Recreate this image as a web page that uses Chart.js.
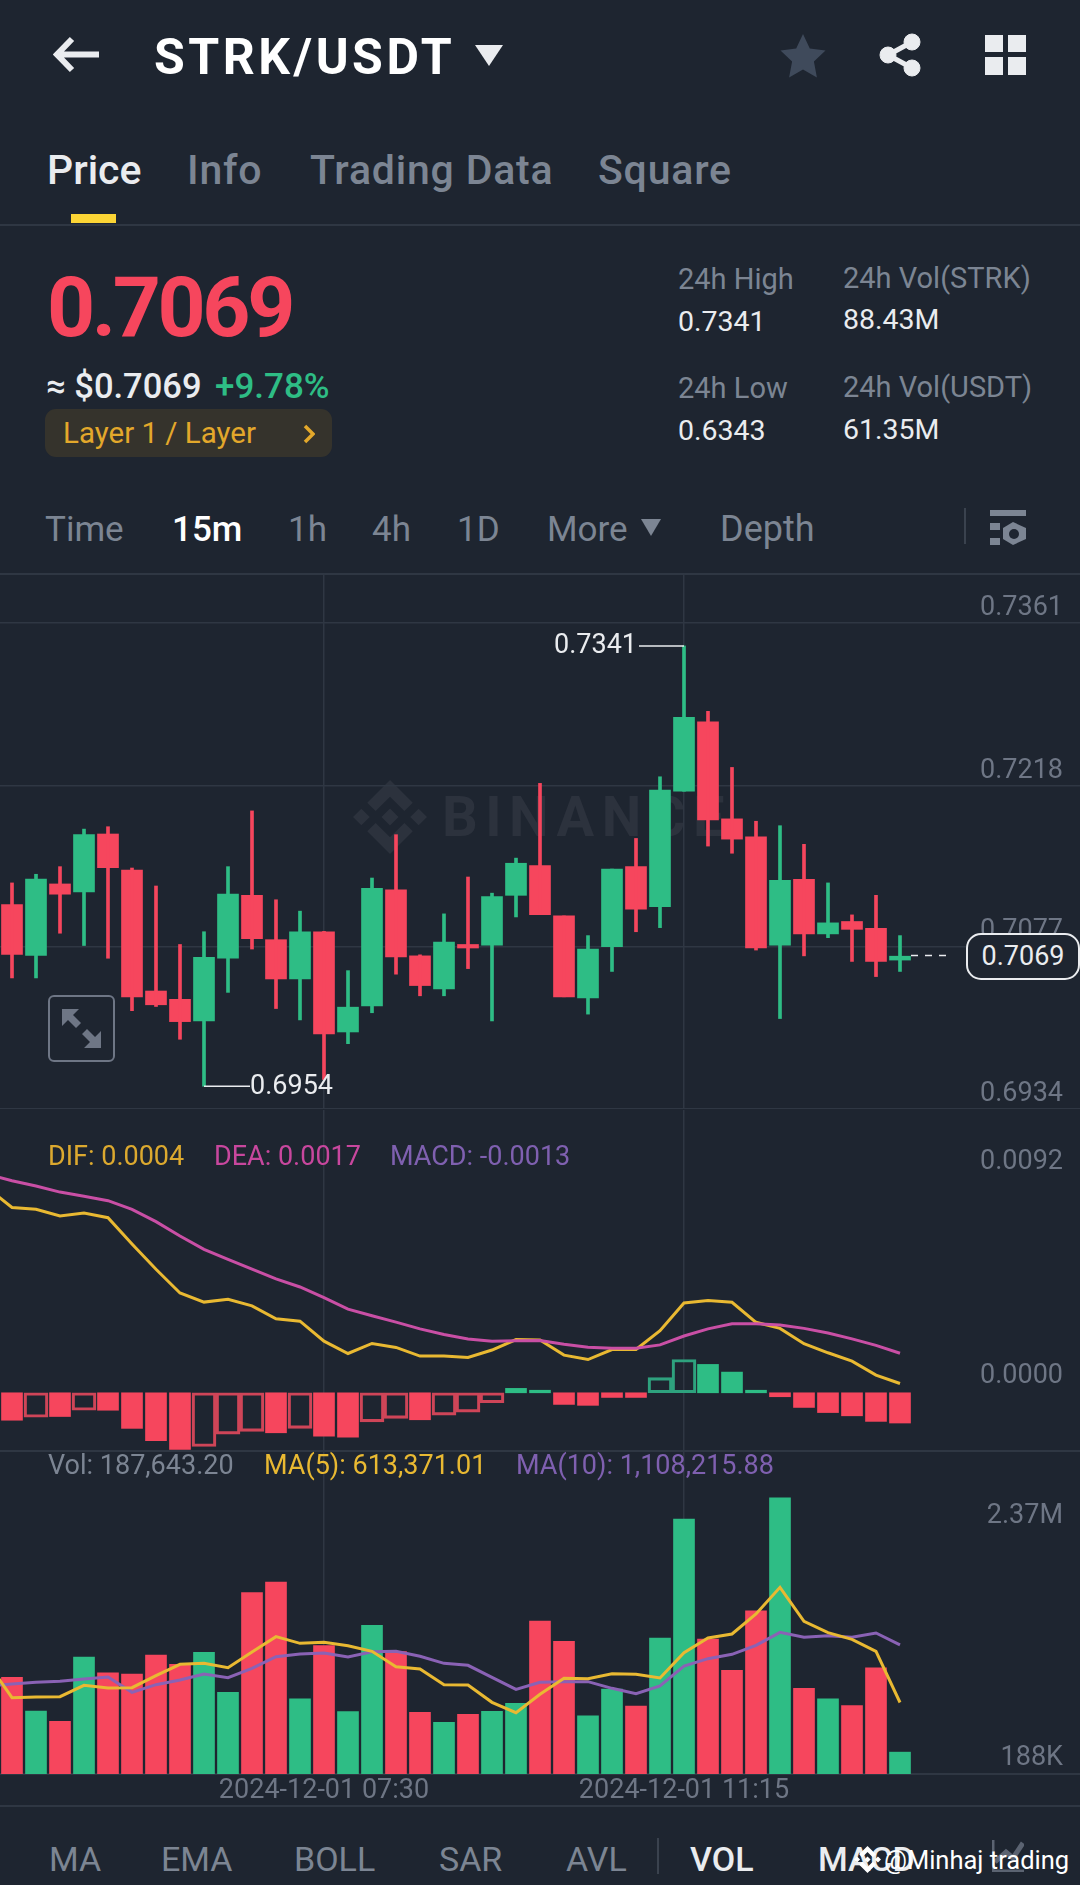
<!DOCTYPE html>
<html>
<head>
<meta charset="utf-8">
<title>STRK/USDT</title>
<script src="https://cdn.jsdelivr.net/npm/chart.js@4/dist/chart.umd.min.js"></script>
<style>
html, body { margin: 0; padding: 0; background: #1e2530; }
body { position: relative; width: 1080px; height: 1885px; overflow: hidden; font-family: Roboto, sans-serif; color: #eaecef; }
.t { position: absolute; white-space: nowrap; transform: translateY(-50%); line-height: 1; }
.grey { color: #7c8593; }
.line { position: absolute; left: 0; width: 1080px; height: 2px; background: #2f3743; }
svg { position: absolute; }
canvas { position: absolute; left: -23.6px; }
#price { top: 573px; }
#macd { top: 1110px; }
#vol { top: 1451px; }
.ax { font-size: 27px; }
.tab { font-size: 41px; font-weight: 500; }
.tab.grey { letter-spacing: 0.8px; }
.row { font-size: 35px; }
.low { font-size: 34px; }
.stat { font-size: 29px; }
.val { font-size: 28.500px; }
#mark { left: 353px; top: 780px; width: 74px; height: 74px; fill: #2c323d; }
#wm { left: 442px; top: 817px; font-size: 56px; font-weight: 700; color: #2c323d; letter-spacing: 7.500px; }
#pill { position: absolute; left: 966px; top: 933px; width: 110px; height: 43px; border: 2px solid #eaecef; border-radius: 15px; background: #1e2530; text-align: center; font-size: 27px; line-height: 43px; }
#expand { position: absolute; left: 48px; top: 995px; width: 63px; height: 63px; border: 2px solid #6e7685; border-radius: 6px; }
</style>
</head>
<body>

<div id="mark-wrap">
<svg id="mark" viewBox="0 0 126.61 126.61"><path d="M38.73 53.2l24.59-24.58 24.6 24.6 14.3-14.31L63.32 0l-38.9 38.9zM0 63.31l14.3-14.31 14.31 14.31-14.31 14.3zM38.73 73.41l24.59 24.59 24.6-24.6 14.31 14.29-38.9 38.91-38.91-38.88zM98 63.31l14.3-14.31 14.31 14.3-14.31 14.32zM77.83 63.3L63.32 48.78 52.59 59.51l-1.24 1.23-2.54 2.54 14.51 14.5 14.5-14.47z"/></svg>
<div class="t" id="wm">BINANCE</div>
</div>

<!-- top bar -->
<svg style="left:53px;top:36px" width="46" height="37" viewBox="0 0 46 37"><path d="M19 3L4 18.5 19 34M5 18.5H46" fill="none" stroke="#eaecef" stroke-width="6"/></svg>
<div class="t" style="left:154px;top:57px;font-size:50px;font-weight:700;color:#fff;letter-spacing:3.500px">STRK/USDT</div>
<svg style="left:475px;top:45px" width="28" height="21"><path d="M0 0H28L14 21Z" fill="#eaecef"/></svg>
<svg style="left:780px;top:33px" width="46" height="46" viewBox="0 0 46 46"><path d="M23 1l6.8 14.6 15.7 2-11.6 11 3 15.8L23 36.4 9.1 44.4l3-15.8L.5 17.600l15.7-2z" fill="#3f4a5b"/></svg>
<svg style="left:878px;top:33px" width="44" height="44" viewBox="0 0 44 44"><g fill="#eaecef" stroke="#eaecef"><circle cx="34" cy="9" r="8"/><circle cx="34" cy="35" r="8"/><circle cx="10" cy="22" r="8"/><path d="M34 9L10 22 34 35" fill="none" stroke-width="5"/></g></svg>
<svg style="left:985px;top:35px" width="41" height="40"><path d="M0 0H18V17H0ZM23 0H41V17H23ZM0 22H18V40H0ZM23 22H41V40H23Z" fill="#eaecef"/></svg>

<!-- tabs -->
<div class="t tab" style="left:47px;top:170px;color:#eaecef">Price</div>
<div class="t tab grey" style="left:187px;top:170px">Info</div>
<div class="t tab grey" style="left:310px;top:170px">Trading Data</div>
<div class="t tab grey" style="left:598px;top:170px">Square</div>
<div style="position:absolute;left:71px;top:214px;width:45px;height:9px;background:#fcd535"></div>
<div class="line" style="top:224px"></div>

<!-- ticker -->
<div class="t" style="left:47px;top:308px;font-size:84px;font-weight:700;color:#f6465d;letter-spacing:-3.400px">0.7069</div>
<div class="t" style="left:46px;top:386px;font-size:34.500px;font-weight:500">≈ $0.7069</div>
<div class="t" style="left:215px;top:386px;font-size:35px;font-weight:500;color:#2ebd85">+9.78%</div>
<div style="position:absolute;left:45px;top:409px;width:287px;height:48px;background:#35332c;border-radius:11px"></div>
<div class="t" style="left:63px;top:434px;font-size:29.500px;color:#e3a82b">Layer 1 / Layer</div>
<svg style="left:303px;top:424px" width="12" height="20"><path d="M2 2L10 10 2 18" fill="none" stroke="#e3a82b" stroke-width="3.500"/></svg>
<div class="t stat grey" style="left:678px;top:279px">24h High</div>
<div class="t val" style="left:678px;top:322px">0.7341</div>
<div class="t stat grey" style="left:843px;top:278px">24h Vol(STRK)</div>
<div class="t val" style="left:843px;top:320px">88.43M</div>
<div class="t stat grey" style="left:678px;top:388px">24h Low</div>
<div class="t val" style="left:678px;top:431px">0.6343</div>
<div class="t stat grey" style="left:843px;top:387px">24h Vol(USDT)</div>
<div class="t val" style="left:843px;top:430px">61.35M</div>

<!-- interval row -->
<div class="t row grey" style="left:45px;top:529px">Time</div>
<div class="t row" style="left:172px;top:529px;font-weight:500;color:#fff">15m</div>
<div class="t row grey" style="left:288px;top:529px">1h</div>
<div class="t row grey" style="left:372px;top:529px">4h</div>
<div class="t row grey" style="left:457px;top:529px">1D</div>
<div class="t row grey" style="left:547px;top:529px">More</div>
<svg style="left:641px;top:519px" width="20" height="17"><path d="M0 0H20L10 17Z" fill="#7c8593"/></svg>
<div class="t row grey" style="left:720px;top:529px;font-size:36px">Depth</div>
<div style="position:absolute;left:964px;top:508px;width:2px;height:36px;background:#3a424e"></div>
<svg style="left:990px;top:510px" width="36" height="35"><g fill="#7c8593"><rect x="0" y="0" width="36" height="6"/><rect x="0" y="13" width="10" height="7"/><rect x="0" y="28" width="10" height="7"/><path d="M23 12l13 6v11l-13 6-10-6V18z"/></g><circle cx="24" cy="24" r="5" fill="#1e2530"/></svg>

<div class="line" style="top:573px"></div>
<div class="line" style="top:1450px"></div>
<div class="line" style="top:1805px"></div>

<canvas id="price" width="1104" height="536"></canvas>
<canvas id="macd" width="1104" height="340"></canvas>
<canvas id="vol" width="1104" height="354"></canvas>

<div id="pill">0.7069</div>
<div id="expand">
<svg style="left:12px;top:12px" width="39" height="39" viewBox="0 0 39 39"><path d="M0 0H17L11 6 19 14 14 19 6 11 0 17ZM39 39H22L28 33 20 25 25 20 33 28 39 22Z" fill="#6e7685"/></svg>
</div>

<!-- chart legends -->
<div class="t ax" style="left:48px;top:1156px;color:#dca92f">DIF: 0.0004</div>
<div class="t ax" style="left:214px;top:1156px;color:#c8479e">DEA: 0.0017</div>
<div class="t ax" style="left:390px;top:1156px;color:#7f60b0">MACD: -0.0013</div>
<div class="t ax grey" style="left:48px;top:1465px">Vol: 187,643.20</div>
<div class="t ax" style="left:264px;top:1465px;color:#e9b932">MA(5): 613,371.01</div>
<div class="t ax" style="left:516px;top:1465px;color:#7f60b0">MA(10): 1,108,215.88</div>

<!-- bottom row -->
<div class="t low grey" style="left:49px;top:1859px">MA</div>
<div class="t low grey" style="left:161px;top:1859px">EMA</div>
<div class="t low grey" style="left:294px;top:1859px">BOLL</div>
<div class="t low grey" style="left:439px;top:1859px">SAR</div>
<div class="t low grey" style="left:566px;top:1859px">AVL</div>
<div style="position:absolute;left:657px;top:1838px;width:2px;height:36px;background:#3a424e"></div>
<div class="t low" style="left:690px;top:1859px;font-weight:500">VOL</div>
<svg style="left:992px;top:1840px" width="32" height="32"><path d="M0 0V32H32M3 22L14 12 21 18 31 3" fill="none" stroke="#5b6371" stroke-width="5"/></svg>
<div class="t low" style="left:818px;top:1859px;font-weight:500">MACD</div>
<svg style="left:854px;top:1846px;fill:#fff" width="27" height="27" viewBox="0 0 126.61 126.61"><path d="M38.73 53.2l24.59-24.58 24.6 24.6 14.3-14.31L63.32 0l-38.9 38.9zM0 63.31l14.3-14.31 14.31 14.31-14.31 14.3zM38.73 73.41l24.59 24.59 24.6-24.6 14.31 14.29-38.9 38.91-38.91-38.88zM98 63.31l14.3-14.31 14.31 14.3-14.31 14.32zM77.83 63.3L63.32 48.78 52.59 59.51l-1.24 1.23-2.54 2.54 14.51 14.5 14.5-14.47z"/></svg>
<div class="t" style="left:884px;top:1861px;font-size:25.500px;font-family:Roboto;color:#fff">@Minhaj trading</div>

<script>
// index 0 is the candle just off the left edge: only its lines show
const times = ["04:00","04:15","04:30","04:45","05:00","05:15","05:30","05:45","06:00","06:15","06:30","06:45",
    "07:00","07:15","07:30","07:45","08:00","08:15","08:30","08:45","09:00","09:15","09:30","09:45",
    "10:00","10:15","10:30","10:45","11:00","11:15","11:30","11:45","12:00","12:15","12:30","12:45",
    "13:00","13:15","13:30","13:45","14:00","14:15","14:30","14:45","15:00","15:15"];
const day = "2024-12-01";
const markedTimes = ["07:30", "11:15"];

const opens = [null,.71137,.70689,.71318,.71249,.71757,.71439,.70377,.70304,.70114,.70665,.71218,.70828,.70483,.70898,.70017,.70247,.71267,.70686,.70395,.70786,.70780,.71218,.71479,.71037,.70316,.70767,.71470,.71119,.72133,.72744,.71890,.71733,.70780,.71358,.70879,.70988,.70928,.70649];
const closes = [null,.70698,.71361,.71228,.71751,.71461,.70326,.70256,.70108,.70674,.71228,.70837,.70483,.70898,.70000,.70235,.71279,.70677,.70425,.70807,.70755,.71206,.71500,.71049,.70326,.70746,.71449,.71097,.72142,.72783,.71881,.71712,.70755,.71349,.70879,.70976,.70919,.70637,.70683];
const highs = [null,.71327,.71403,.71470,.71800,.71821,.71458,.71300,.70786,.70898,.71470,.71960,.71179,.71079,.70901,.70556,.71370,.71751,.70695,.71055,.71379,.71237,.71545,.72202,.71037,.70864,.71449,.71718,.72260,.73410,.72835,.72342,.71869,.71830,.71666,.71327,.71046,.71218,.70864];
const lows = [null,.70492,.70492,.70885,.70777,.70665,.70204,.70241,.69953,.69540,.70365,.70746,.70223,.70123,.69599,.69914,.70186,.70525,.70335,.70335,.70574,.70114,.71028,.71049,.70326,.70174,.70549,.70898,.70934,.72133,.71651,.71588,.70737,.70135,.70686,.70846,.70637,.70504,.70549];
const priceTicks = [.7361, .7218, .7077, .6934];
const lastPrice = .7069;

const dif = [.00879,.00797,.00789,.00760,.00773,.00753,.00640,.00531,.00429,.00390,.00402,.00374,.00318,.00308,.00222,.00169,.00212,.00195,.00158,.00158,.00152,.00184,.00229,.00227,.00162,.00143,.00186,.00186,.00267,.00386,.00397,.00389,.00303,.00277,.00211,.00172,.00136,.00076,.0004];
const dea = [.00939,.00912,.00889,.00863,.00845,.00826,.00789,.00736,.00674,.00617,.00574,.00532,.00490,.00455,.00409,.00360,.00331,.00304,.00275,.00251,.00231,.00222,.00224,.00225,.00209,.00196,.00192,.00192,.00206,.00244,.00275,.00297,.00297,.00291,.00277,.00257,.00232,.00204,.0017];
const macdHist = [null,-.00118,-.00105,-.00102,-.00075,-.00075,-.00153,-.00206,-.00244,-.00231,-.00178,-.00166,-.00172,-.00153,-.00186,-.00191,-.00125,-.00110,-.00116,-.00096,-.00083,-.00043,.00019,.00011,-.00050,-.00054,-.00020,-.00020,.00065,.00143,.00122,.00089,.00011,-.00017,-.00063,-.00085,-.00099,-.00123,-.0013];
const macdHollow = [2,4,9,10,11,13,16,17,19,20,21,28,29];
const macdTicks = [.0092, 0];

const volumes = [null,829000,540000,452000,1004000,869000,858000,1021000,941000,1044000,701000,1556000,1647000,646000,1101000,535000,1276000,1050000,529000,443000,512000,538000,606000,1313000,1138000,500000,729000,583000,1167000,2188000,1158000,889000,1399000,2370000,735000,644000,586000,912000,187643];
const ma5 = [949500,654900,660700,663500,760800,737900,740700,843700,940900,949500,912300,1046800,1178300,1121100,1129700,1101100,1052500,920900,900900,766500,763600,614900,526200,683500,820800,818000,860900,855100,823700,1041000,1166900,1201200,1372800,1601600,1309900,1212600,1155400,1052500,613371];
const ma10 = [755000,772200,786500,795100,815100,832300,700700,766500,806500,858000,826500,906600,1006700,1029600,1038200,1003900,1049600,1052500,1009600,949500,932400,829400,726400,786500,792200,792200,735000,689300,755000,926600,989600,1026700,1104000,1215500,1172600,1186900,1172600,1209800,1108216];
const volTopTick = 2370000;
const volLowTick = 188000;

const red = "#f6465d", green = "#2ebd85", gridColor = "#2f3743", tickColor = "#6e7685";
const upColors = opens.map((o, i) => closes[i] >= o ? green : red);

Chart.defaults.font.family = "Roboto";
Chart.defaults.animation = false;
Chart.defaults.devicePixelRatio = 1;

function noPad(s) {
    s.paddingTop = s.paddingBottom = s.paddingLeft = s.paddingRight = 0;
}
function xAxis(showLabels) {
    return {
        offset: true,
        grid: {
            offset: false, drawTicks: false, lineWidth: 1.5,
            color: c => markedTimes.includes(times[c.index]) ? gridColor : "transparent"
        },
        border: { display: false },
        ticks: {
            display: showLabels, autoSkip: false, maxRotation: 0, padding: 1,
            color: tickColor, font: { size: 27 },
            callback: (v, i) => markedTimes.includes(times[i]) ? day + " " + times[i] : ""
        },
        afterFit: s => { noPad(s); s.height = showLabels ? 31 : 0; }
    };
}
function yAxis(min, max, ticks, fmt, offset, gridOn) {
    return {
        position: "right", min: min, max: max,
        grid: { display: gridOn, color: gridColor, lineWidth: 1.5, drawTicks: false },
        border: { display: false },
        afterBuildTicks: s => { s.ticks = ticks.map(v => ({ value: v })); },
        ticks: {
            mirror: true, padding: -17, labelOffset: offset, color: tickColor,
            font: { size: 27 }, callback: fmt
        },
        afterFit: s => { noPad(s); s.width = 0; }
    };
}

// high and low notes plus the dashed last price
const priceNotes = {
    id: "priceNotes",
    afterDatasetsDraw(chart) {
        const c = chart.ctx, x = chart.scales.x, y = chart.scales.y;
        const hi = highs.indexOf(Math.max(...highs.slice(1)));
        const lo = lows.indexOf(Math.min(...lows.slice(1)));
        c.save();
        c.strokeStyle = c.fillStyle = "#eaecef";
        c.lineWidth = 1.5;
        c.font = "27px Roboto";
        c.textBaseline = "middle";

        let px = x.getPixelForValue(hi), py = y.getPixelForValue(highs[hi]);
        c.beginPath(); c.moveTo(px, py); c.lineTo(px - 45, py); c.stroke();
        c.textAlign = "right";
        c.fillText(highs[hi].toFixed(4), px - 47, py);

        px = x.getPixelForValue(lo); py = y.getPixelForValue(lows[lo]);
        c.beginPath(); c.moveTo(px, py); c.lineTo(px + 46, py); c.stroke();
        c.textAlign = "left";
        c.fillText(lows[lo].toFixed(4), px + 46, py + 1);

        px = x.getPixelForValue(opens.length - 1); py = y.getPixelForValue(lastPrice);
        c.setLineDash([7, 7]);
        c.beginPath(); c.moveTo(px + 11, py); c.lineTo(px + 53, py); c.stroke();
        c.restore();
    }
};

new Chart(document.getElementById("price"), {
    type: "bar",
    data: {
        labels: times,
        datasets: [
            { data: opens.map((o, i) => o == null ? null : [lows[i], highs[i]]), backgroundColor: upColors, barThickness: 3, grouped: false },
            { data: opens.map((o, i) => o == null ? null : [o, closes[i]]), backgroundColor: upColors, barThickness: 21, grouped: false }
        ]
    },
    options: {
        responsive: false,
        plugins: { legend: { display: false }, tooltip: { enabled: false } },
        scales: {
            x: xAxis(false),
            y: yAxis(.6934, .74051, priceTicks, v => v.toFixed(4), -15, true)
        }
    },
    plugins: [priceNotes]
});

const solidHist = macdHist.map((v, i) => macdHollow.includes(i) ? null : v);
const hollowHist = macdHist.map((v, i) => macdHollow.includes(i) ? v : null);
new Chart(document.getElementById("macd"), {
    type: "bar",
    data: {
        labels: times,
        datasets: [
            { data: solidHist, backgroundColor: solidHist.map(v => v > 0 ? green : red), barThickness: 21, grouped: false, order: 2 },
            {
                data: hollowHist, backgroundColor: "transparent", borderColor: hollowHist.map(v => v > 0 ? "#2ea27e" : "#cf4558"),
                borderWidth: 2.5, borderSkipped: false, barThickness: 24, grouped: false, order: 2
            },
            { type: "line", data: dif, borderColor: "#e9b932", borderWidth: 3, pointRadius: 0, order: 1 },
            { type: "line", data: dea, borderColor: "#c94fa5", borderWidth: 3, pointRadius: 0, order: 0 }
        ]
    },
    options: {
        responsive: false,
        plugins: { legend: { display: false }, tooltip: { enabled: false } },
        scales: {
            x: xAxis(false),
            y: yAxis(-.00246, .01216, macdTicks, v => v.toFixed(4), -16.5, false)
        }
    }
});

new Chart(document.getElementById("vol"), {
    type: "bar",
    data: {
        labels: times,
        datasets: [
            { data: volumes, backgroundColor: upColors, barThickness: 21, grouped: false, order: 2 },
            { type: "line", data: ma10, borderColor: "#8a62b5", borderWidth: 3, pointRadius: 0, order: 1 },
            { type: "line", data: ma5, borderColor: "#e9b932", borderWidth: 3, pointRadius: 0, order: 0 }
        ]
    },
    options: {
        responsive: false,
        plugins: { legend: { display: false }, tooltip: { enabled: false } },
        scales: {
            x: Object.assign(xAxis(true), { border: { display: true, color: gridColor, width: 2 } }),
            y: yAxis(0, 2771340, [volTopTick], v => (v / 1e6).toFixed(2) + "M", 18, false),
            y2: yAxis(0, 2771340, [volLowTick], v => (v / 1e3).toFixed(0) + "K", 6, false)
        }
    }
});
</script>
</body>
</html>
